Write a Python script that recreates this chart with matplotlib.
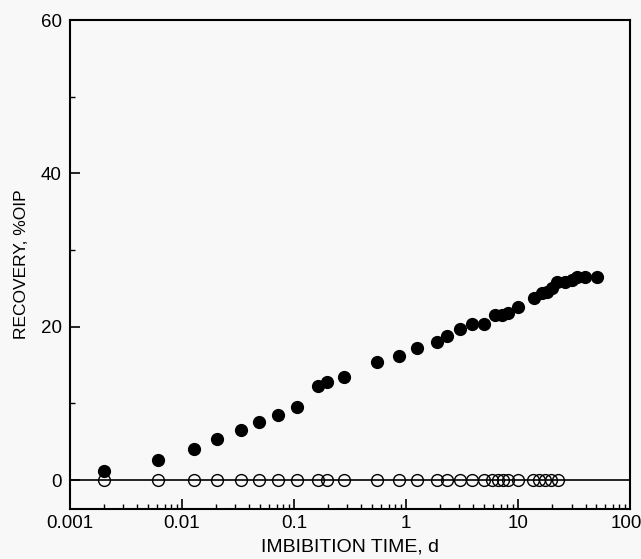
import numpy as np
import matplotlib
matplotlib.use("Agg")
import matplotlib.pyplot as plt
import matplotlib.transforms as mtransforms
from matplotlib.ticker import FixedLocator, LogLocator, NullFormatter

plt.rcParams['font.family'] = ['Liberation Sans', 'DejaVu Sans']

# imbibition data
time_filled = [0.0020, 0.0061, 0.0128, 0.0205, 0.0337, 0.0487, 0.072, 0.106,
               0.164, 0.197, 0.28, 0.55, 0.87, 1.25, 1.89, 2.32, 3.03, 3.88,
               4.97, 6.2, 7.2, 8.2, 10.0, 13.9, 16.3, 18.1, 20.0, 22.4, 26.0,
               30.2, 33.8, 39.8, 51.0]
recovery_filled = [1.2, 2.6, 4.0, 5.3, 6.5, 7.6, 8.5, 9.5,
                   12.3, 12.8, 13.5, 15.4, 16.2, 17.2, 18.0, 18.8, 19.7, 20.4,
                   20.3, 21.6, 21.6, 21.8, 22.6, 23.7, 24.4, 24.6, 25.0, 25.8, 25.8,
                   26.1, 26.5, 26.5, 26.5]

time_open = [0.0020, 0.0061, 0.0128, 0.0205, 0.0337, 0.0487, 0.072, 0.106,
             0.164, 0.197, 0.28, 0.55, 0.87, 1.25, 1.89, 2.32, 3.03, 3.88,
             4.97, 5.9, 6.6, 7.3, 8.2, 10.0, 13.6, 15.5, 17.3, 19.5, 22.8]
recovery_open = [0.0] * len(time_open)

fig = plt.figure(figsize=(6.41, 5.59), dpi=100)
fig.patch.set_facecolor('#f8f8f8')
ax = fig.add_axes([0.109, 0.089, 0.874, 0.875])
ax.set_facecolor('#f8f8f8')

ax.axhline(0, color='black', lw=1.2, zorder=1)
ax.plot(time_open, recovery_open, 'o', mfc='none', mec='black', mew=1.0,
        ms=8.5, zorder=2)
ax.plot(time_filled, recovery_filled, 'o', color='black', ms=8.5, zorder=3)

ax.set_xscale('log')
ax.set_xlim(0.001, 100)
ax.set_ylim(-3.8, 60)

ax.set_xticks([0.001, 0.01, 0.1, 1, 10, 100])
ax.set_xticklabels(['0.001', '0.01', '0.1', '1', '10', '100'])
ax.xaxis.set_minor_locator(LogLocator(base=10, subs=np.arange(2, 10)))
ax.xaxis.set_minor_formatter(NullFormatter())
ax.set_yticks([0, 20, 40, 60])
ax.yaxis.set_minor_locator(FixedLocator([10, 30, 50]))

ax.tick_params(axis='both', which='major', direction='in', length=7,
               width=1.2, labelsize=13.5)
ax.tick_params(axis='x', which='major', pad=4)
ax.tick_params(axis='y', which='major', pad=6)
ax.tick_params(axis='both', which='minor', direction='in', length=3.5,
               width=1.0)

# nudge the last x label so it stays inside the figure
last = ax.get_xticklabels()[-1]
last.set_transform(last.get_transform() +
                   mtransforms.ScaledTranslation(-3 / 72, 0, fig.dpi_scale_trans))

for s in ax.spines.values():
    s.set_linewidth(1.5)

ax.set_xlabel('IMBIBITION TIME, d', fontsize=14, labelpad=5)
ax.set_ylabel('RECOVERY, %OIP', fontsize=12.5, labelpad=8)

fig.savefig('out.png', dpi=100, facecolor=fig.get_facecolor())
